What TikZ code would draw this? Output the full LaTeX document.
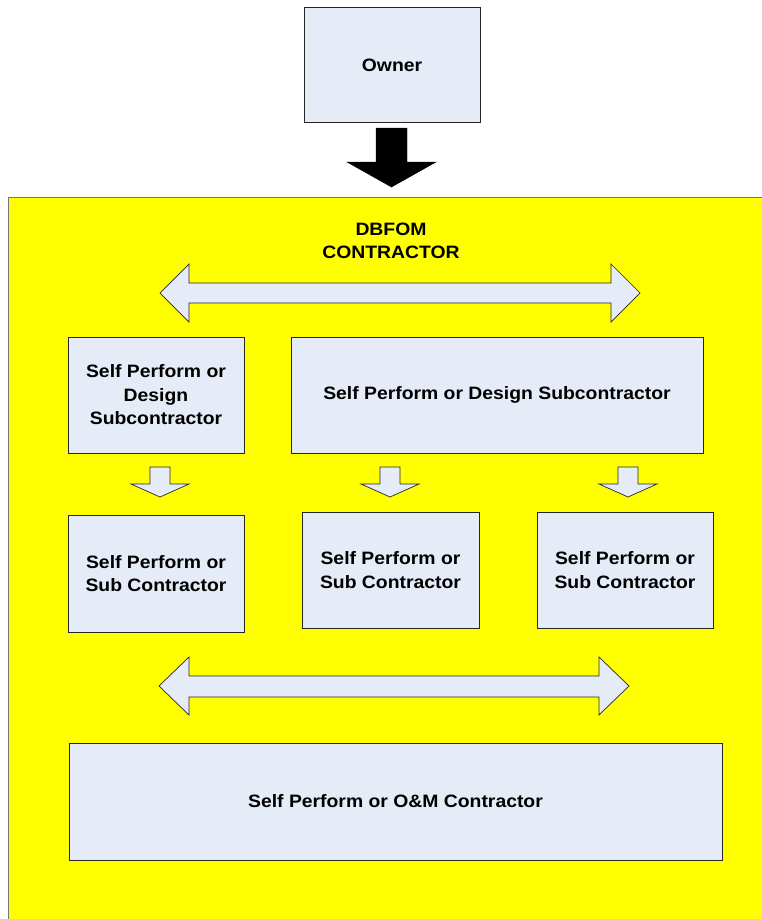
\documentclass[tikz,border=0pt]{standalone}
\usepackage{fontspec}
\setmainfont[FakeStretch=1.08]{Liberation Sans}
\usetikzlibrary{positioning}
\definecolor{boxfill}{HTML}{E6ECF7}
\definecolor{areafill}{HTML}{FFFF00}
\tikzset{
    mybox/.style = {rectangle, draw=black!85, line width=0.7pt, fill=boxfill, align=center, inner sep=0pt, font=\bfseries\fontsize{15.3}{20}\selectfont, text=black},
    mylabel/.style = {align=center, inner sep=0pt, font=\bfseries\fontsize{15.3}{20}\selectfont, text=black},
    myarrow/.style = {draw=black!85, line width=0.6pt, fill=boxfill, line join=miter},
    bigarrow/.style = {draw=black, fill=black},
    myarea/.style = {draw=black!55, line width=0.8pt, fill=areafill}
}

\begin{document}
\begin{tikzpicture}[x=0.03cm,y=-0.03cm]
\useasboundingbox (0,0) rectangle (762,919);
\clip (0,0) rectangle (762,919);
% contractor area
\draw[myarea] (8,197) rectangle (775,930);
%
\node[mybox, minimum width=5.28cm, minimum height=3.45cm] at (392,65) (owner) {Owner};
\node[mylabel] at (391,241) (dbfom) {DBFOM\\CONTRACTOR};
%
\node[mybox, minimum width=5.28cm, minimum height=3.48cm] at (156,395) (designl) {Self Perform or\\Design\\Subcontractor};
\node[mybox, minimum width=12.36cm, minimum height=3.48cm] at (497,395) (designr) {Self Perform or Design Subcontractor};
%
\node[mybox, minimum width=5.28cm, minimum height=3.51cm] at (156,573.5) (subl) {Self Perform or\\Sub Contractor};
\node[mybox, minimum width=5.31cm, minimum height=3.48cm] at (390.5,570) (subm) {Self Perform or\\Sub Contractor};
\node[mybox, minimum width=5.28cm, minimum height=3.48cm] at (625,570) (subr) {Self Perform or\\Sub Contractor};
%
\node[mybox, minimum width=19.59cm, minimum height=3.51cm] at (395.5,801.5) (om) {Self Perform or O\&M Contractor};

% owner to contractor
\fill[bigarrow] (376,128) -- (407,128) -- (407,162) -- (436,162) -- (391.5,187) -- (347,162) -- (376,162) -- cycle;

% double arrows
\draw[myarrow] (160,293) -- (189,264) -- (189,283) -- (611,283) -- (611,264) -- (640,293)
    -- (611,322) -- (611,303) -- (189,303) -- (189,322) -- cycle;
\draw[myarrow] (159,686) -- (189,657) -- (189,676) -- (599,676) -- (599,657) -- (629,686)
    -- (599,715) -- (599,697) -- (189,697) -- (189,715) -- cycle;

% small down arrows
\foreach \cx in {160,390,628}
  \draw[myarrow] (\cx-10,467) -- (\cx+10,467) -- (\cx+10,484) -- (\cx+29,484) -- (\cx,497)
      -- (\cx-29,484) -- (\cx-10,484) -- cycle;

\end{tikzpicture}
\end{document}
